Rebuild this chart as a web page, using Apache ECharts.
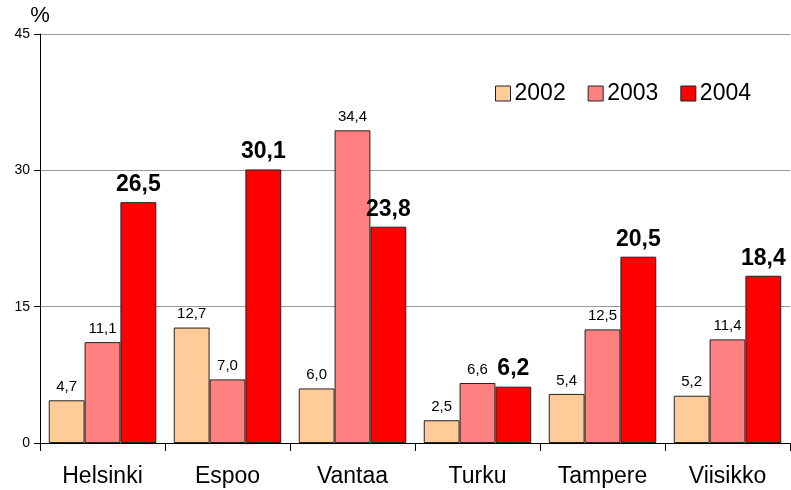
<!DOCTYPE html>
<html>
<head>
<meta charset="utf-8">
<script src="https://cdn.jsdelivr.net/npm/echarts@6/dist/echarts.min.js"></script>
<style>
  html, body { margin: 0; padding: 0; background: #fff; }
  #main { width: 791px; height: 490px; }
</style>
</head>
<body>
<div id="main"></div>
<script>
var cities = ['Helsinki', 'Espoo', 'Vantaa', 'Turku', 'Tampere', 'Viisikko'];
var years = ['2002', '2003', '2004'];
var v2002 = [4.7, 12.7, 6.0, 2.5, 5.4, 5.2];
var v2003 = [11.1, 7.0, 34.4, 6.6, 12.5, 11.4];
var v2004 = [26.5, 30.1, 23.8, 6.2, 20.5, 18.4];
var yTicks = [0, 15, 30, 45];

var colors = ['#FFCC99', '#FF8080', '#FF0000'];
var font = 'Arial, "Liberation Sans", sans-serif';

function fmt(p) {
    return p.value.toFixed(1).replace('.', ',');
}

function makeSeries(name, data, idx) {
    var big = idx == 2;
    return {
        name: name,
        type: 'bar',
        data: data,
        barGap: '0%',
        barCategoryGap: '14%',
        itemStyle: {
            color: colors[idx],
            borderColor: '#222',
            borderWidth: 1
        },
        label: {
            show: true,
            position: 'top',
            distance: 6,
            formatter: fmt,
            fontFamily: font,
            fontSize: big ? 23 : 15,
            fontWeight: big ? 'bold' : 'normal',
            color: '#000'
        }
    };
}

var myChart = echarts.init(document.getElementById('main'));
var option = {
    animation: false,
    backgroundColor: '#fff',
    grid: {
        left: 40,
        right: 1,
        top: 34,
        bottom: 47
    },
    // 图例
    legend: {
        data: years,
        icon: 'rect',
        right: 35,
        top: 77,
        itemWidth: 15,
        itemHeight: 15,
        itemGap: 22,
        textStyle: { fontFamily: font, fontSize: 23, color: '#000', padding: [0, 0, 0, -1] },
        itemStyle: { borderColor: '#222', borderWidth: 1 }
    },
    xAxis: {
        type: 'category',
        data: cities,
        axisLine: { lineStyle: { color: '#000', width: 1 } },
        axisTick: { show: true, length: 8, lineStyle: { color: '#000' } },
        axisLabel: { fontFamily: font, fontSize: 23, color: '#000', margin: 22 }
    },
    yAxis: {
        type: 'value',
        min: yTicks[0],
        max: yTicks[yTicks.length - 1],
        interval: 15,
        name: '%',
        nameLocation: 'end',
        nameGap: 1,
        nameTextStyle: { fontFamily: font, fontSize: 22, color: '#000', align: 'center' },
        axisLine: { show: true, lineStyle: { color: '#000', width: 1 } },
        axisTick: { show: true, length: 6, lineStyle: { color: '#000' } },
        axisLabel: { fontFamily: font, fontSize: 14, color: '#000', margin: 10 },
        splitLine: { show: true, lineStyle: { color: '#999', width: 1 } }
    },
    series: [
        makeSeries(years[0], v2002, 0),
        makeSeries(years[1], v2003, 1),
        makeSeries(years[2], v2004, 2)
    ]
};
myChart.setOption(option);
</script>
</body>
</html>
